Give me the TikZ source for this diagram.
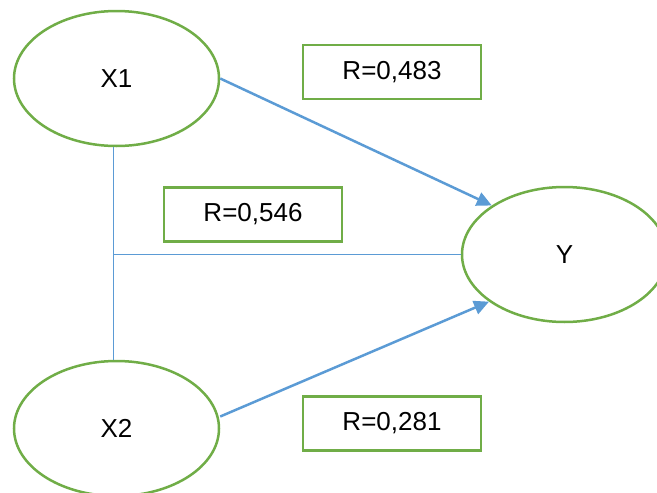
\documentclass[tikz,border=0pt]{standalone}
\usepackage{fontspec}
\setmainfont{Liberation Sans}
\usetikzlibrary{arrows.meta,shapes.geometric}
\definecolor{grn}{RGB}{112,173,71}
\definecolor{blu}{RGB}{91,155,213}
\tikzset{
  var/.style={ellipse,draw=grn,line width=2.5pt,minimum width=205pt,minimum height=135pt,inner sep=0pt,font=\fontsize{26}{30}\selectfont},
  rbox/.style={rectangle,draw=grn,line width=2.5pt,minimum width=178pt,minimum height=54pt,inner sep=0pt,font=\fontsize{26}{30}\selectfont},
  path/.style={draw=blu,line width=2.5pt,-{Triangle[length=15pt,width=14pt]}},
  thin/.style={draw=blu,line width=1.3pt}
}
\begin{document}
\begin{tikzpicture}[x=1pt,y=-1pt]
\clip (0,0) rectangle (657,493);
\useasboundingbox (0,0) rectangle (657,493);
\node[var] (X1) at (116.5,78.5) {X1};
\node[var] (X2) at (116.5,428.5) {X2};
\node[var] (Y) at (564.5,254.5) {Y};
\node[rbox] (r1) at (392,72) {R=0,483};
\node[rbox] (r2) at (253,214.5) {R=0,546};
\node[rbox] (r3) at (392,423.5) {R=0,281};
\coordinate (J) at (113.5,254.5);
\draw[thin] (J |- X1.south) -- (J |- X2.north);
\draw[thin] (J) -- (Y.west);
\draw[path] (X1.east) -- (Y.146);
\draw[path] ([yshift=12pt]X2.east) -- (Y.212);
\end{tikzpicture}
\end{document}
